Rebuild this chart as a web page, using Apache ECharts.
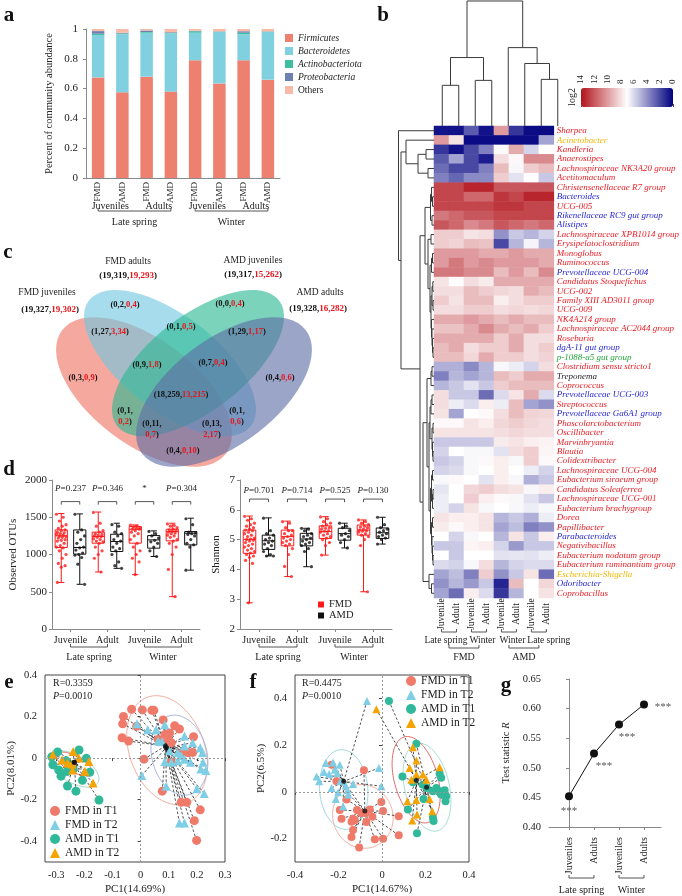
<!DOCTYPE html>
<html>
<head>
<meta charset="utf-8">
<title>Gut microbiota of FMD and AMD</title>
<script src="https://cdn.jsdelivr.net/npm/echarts@6.0.0/dist/echarts.min.js"></script>
<style>
  html, body { margin: 0; padding: 0; background: #fff; }
  #chart { width: 682px; height: 896px; }
</style>
</head>
<body>
<div id="chart"></div>
<script>
const FONT = '"Liberation Serif", "Times New Roman", serif'

// ---------- a: phylum composition ----------
const stackGroups = ['FMD', 'AMD', 'FMD', 'AMD', 'FMD', 'AMD', 'FMD', 'AMD']
const phyla = ['Firmicutes', 'Bacteroidetes', 'Actinobacteriota', 'Proteobacteria', 'Others']
const firmicutes = [0.675, 0.575, 0.68, 0.58, 0.79, 0.635, 0.79, 0.66]
const bacteroidetes = [0.285, 0.39, 0.295, 0.39, 0.185, 0.345, 0.175, 0.32]
const actinobacteriota = [0.008, 0.005, 0.005, 0.003, 0.01, 0.002, 0.01, 0.002]
const proteobacteria = [0.018, 0.005, 0.01, 0.005, 0.003, 0.002, 0.01, 0.002]
const others = [0.014, 0.025, 0.01, 0.022, 0.012, 0.016, 0.015, 0.016]
const ageGroups = ['Juveniles', 'Adults', 'Juveniles', 'Adults']
const seasons = ['Late spring', 'Winter']

// ---------- b: heatmap ----------
const genera = ['Sharpea', 'Acinetobacter', 'Kandleria', 'Anaerostipes', 'Lachnospiraceae NK3A20 group',
  'Acetitomaculum', 'Christensenellaceae R7 group', 'Bacteroides', 'UCG-005', 'Rikenellaceae RC9 gut group',
  'Alistipes', 'Lachnospiraceae XPB1014 group', 'Erysipelatoclostridium', 'Monoglobus', 'Ruminococcus',
  'Prevotellaceae UCG-004', 'Candidatus Stoquefichus', 'UCG-002', 'Family XIII AD3011 group', 'UCG-009',
  'NK4A214 group', 'Lachnospiraceae AC2044 group', 'Roseburia', 'dgA-11 gut group', 'p-1088-a5 gut group',
  'Clostridium sensu stricto1', 'Treponema', 'Coprococcus', 'Prevotellaceae UCG-003', 'Streptococcus',
  'Prevotellaceae Ga6A1 group', 'Phascolarctobacterium', 'Oscillibacter', 'Marvinbryantia', 'Blautia',
  'Colidextribacter', 'Lachnospiraceae UCG-004', 'Eubacterium siraeum group', 'Candidatus Soleaferrea',
  'Lachnospiraceae UCG-001', 'Eubacterium brachygroup', 'Dorea', 'Papillibacter', 'Parabacteroides',
  'Negativibacillus', 'Eubacterium nodatum group', 'Eubacterium ruminantium group', 'Escherichia-Shigella',
  'Odoribacter', 'Coprobacillus']
// phylum of each genus: r Firmicutes, b Bacteroidota, y Proteobacteria, g Patescibacteria, k Spirochaetota
const genusPhylum = 'ryrrrrrbrb' + 'brrrrbrrrr' + 'rrrbgrkrbr' + 'brrrrrrrrr' + 'rrrbrrrybr'
const heatCols = ['Juvenile', 'Adult', 'Juvenile', 'Adult', 'Juvenile', 'Adult', 'Juvenile', 'Adult']
const heatSeasons = ['Late spring', 'Winter', 'Winter', 'Late spring']
const heatDiets = ['FMD', 'AMD']
const heatValues = [
  [0.5, 0.5, 2.5, 0.5, 10, 1.5, 0.3, 0.3],
  [10, 7.8, 0.3, 0.3, 0.3, 0.3, 0.3, 4.5],
  [1.5, 0.5, 2, 3.5, 7.2, 9.5, 5.8, 7],
  [2.5, 4.5, 2, 0.8, 8, 7.2, 10.5, 10.5],
  [3, 2, 2, 3.5, 9, 6.8, 8.5, 9],
  [3.5, 2.8, 3.8, 3.8, 8.5, 6.2, 7.1, 5.5],
  [12.5, 12.5, 13.5, 13.5, 12, 12, 12, 12],
  [12.5, 12.5, 11.5, 11.5, 13, 12.5, 13.5, 13.5],
  [12.5, 12.5, 12.5, 12.5, 13, 13, 12.5, 12.5],
  [11, 11.5, 12, 12, 12.5, 12.5, 12.5, 12.5],
  [12, 11.5, 10.5, 11, 12, 11.5, 11, 11.5],
  [8.5, 8.5, 7.8, 8, 4, 5.5, 5, 5.8],
  [8.5, 8.3, 9, 8.8, 2, 5, 6.7, 5],
  [10, 10, 10, 9.5, 9.5, 10, 9.5, 9.5],
  [10, 11, 10, 10.5, 10, 10, 10, 9.5],
  [11, 11, 10.5, 10.5, 9, 10, 9, 10.5],
  [7.8, 7.1, 8, 7.6, 9.5, 9.5, 9.5, 9.5],
  [8, 8, 9, 8.5, 8.2, 8, 9.5, 9],
  [8.5, 7.8, 9, 9, 7.5, 8, 8.5, 8.5],
  [8, 8, 8.5, 8.5, 8, 8.2, 8, 8.2],
  [9.5, 9.5, 10, 9.5, 9, 9.5, 9, 9],
  [8.8, 8.8, 9.5, 10.5, 9.5, 9, 9.5, 8.5],
  [9.5, 9.5, 9.5, 9.5, 8.5, 9.5, 8, 8],
  [9, 9.5, 8, 8.5, 8.5, 9.5, 8, 8.5],
  [9, 9, 8.2, 9.5, 8.5, 8.5, 8, 8.3],
  [4.8, 4.8, 3.8, 5, 6.8, 6.5, 5.8, 8],
  [3.5, 5, 4.5, 5, 9, 8.5, 9.5, 9.5],
  [5, 5.5, 6.2, 5.5, 8.5, 9, 9, 9],
  [8, 5.5, 5.5, 3, 6, 7.8, 9.5, 6],
  [8, 6.5, 6, 7.5, 6.5, 9, 4.5, 4],
  [7.8, 4.5, 7, 7.2, 8, 9, 8.3, 8.2],
  [7.2, 7.2, 7.8, 7.5, 8.2, 8.5, 8.2, 8],
  [7.8, 7.8, 7.8, 7.8, 8, 8.2, 8, 8],
  [5.5, 5.5, 5.5, 5.5, 7.6, 7.8, 7.5, 7.4],
  [5.8, 7, 6.8, 6.8, 6.2, 8, 8.5, 7.3],
  [5.5, 5.8, 6.8, 7.2, 7.5, 6.8, 8.5, 7.2],
  [5.8, 6, 6.8, 7, 7.5, 7, 6.5, 5.8],
  [6.8, 7.2, 7, 6.2, 7.5, 6.8, 4.8, 5.5],
  [6.3, 7, 8.2, 8.5, 8, 7.8, 6.8, 7.5],
  [6.5, 7, 8.5, 7.5, 7.2, 6.8, 6.2, 5.5],
  [6.5, 5.8, 7.8, 6.8, 7, 6.8, 6.5, 6.8],
  [7.8, 7.5, 7.5, 7.8, 5, 5.5, 4.8, 6.5],
  [7.6, 7.2, 7.5, 7.8, 4.5, 5.2, 3.5, 4],
  [7, 5.8, 6.8, 7, 5, 7.8, 5.5, 7.5],
  [5.5, 5.5, 7.3, 7.5, 5.8, 4.2, 5.5, 5.5],
  [7, 5.5, 7, 7, 6.2, 6.3, 6.2, 6.5],
  [6, 5.8, 6.8, 8, 5, 5.8, 6, 6],
  [4.5, 5.2, 3.5, 8.5, 4, 5.5, 7.8, 3],
  [4, 5, 4.2, 5.5, 1, 9, 7, 8.2],
  [4.5, 3, 7.5, 6, 1.5, 5, 7, 7.8]
]
// clustering trees: [left, right, height], leaves are indices
const colTree = [[[0, 1, 41], [2, 3, 46], 69], [4, [5, [6, 7, 47], 63], 79], 126]
const rowTree = [0, [[1, [[2, 3, 8], [4, 5, 6], 16], 28],
  [[[[6, [7, 8, 1.5], 2.5], [9, 10, 2], 3.5], [[11, 12, 3], [[[13, 14, 1.5], 15, 2.5],
    [[[16, 17, 1.2], [18, 19, 1], 2], [20, [21, [22, [23, 24, 1], 1.5], 2], 2.5], 3], 4], 6], 9],
   [[[[25, 26, 2], 27, 3], [[[[28, 29, 2], 30, 3], [[31, 32, 1], [33, [34, 35, 1], 1.5], 2], 4],
     [[[36, 37, 1.5], [[38, 39, 1], 40, 1.5], 2.5], [[41, 42, 1.5], [43, [44, [45, 46, 1], 1.5], 2], 2.5], 3.5], 5], 7],
    [47, [48, 49, 2.5], 5], 11], 14], 33], 35.5]

// ---------- c: Venn ----------
const vennSets = ['FMD juveniles', 'FMD adults', 'AMD juveniles', 'AMD adults']
const vennTotals = [[19, 327, 19, 302], [19, 319, 19, 293], [19, 317, 15, 262], [19, 328, 16, 282]]
const vennRegions = [[0, 3, 0, 9], [0, 2, 0, 4], [0, 0, 0, 4], [0, 4, 0, 6], [1, 27, 3, 34], [0, 1, 0, 5],
  [1, 29, 1, 17], [0, 9, 1, 8], [0, 7, 0, 4], [18, 259, 13, 215], [0, 1, 0, 2], [0, 11, 0, 7],
  [0, 13, 2, 17], [0, 1, 0, 6], [0, 4, 0, 10]]

// ---------- d: alpha diversity ----------
const ageLabels = ['Juvenile', 'Adult', 'Juvenile', 'Adult']
// box stats per slot (FMD, AMD alternating): [min, q1, median, q3, max]
const otuBoxes = [[625, 1094, 1250, 1330, 1550], [600, 1005, 1094, 1330, 1545], [765, 1152, 1241, 1300, 1570],
  [814, 1040, 1174, 1272, 1420], [730, 1152, 1339, 1375, 1397], [973, 1085, 1196, 1254, 1317],
  [434, 1183, 1308, 1339, 1420], [790, 1129, 1286, 1308, 1487]]
const otuPoints = [
  [1540, 1500, 1450, 1400, 1380, 1350, 1330, 1320, 1300, 1290, 1280, 1270, 1260, 1250, 1240, 1230, 1220, 1200, 1190, 1180, 1150, 1120, 1100, 1090, 1050, 1000, 950, 880, 850, 830, 625],
  [1540, 1330, 1300, 1250, 1200, 1150, 1100, 1090, 1060, 1020, 1000, 990, 960, 870, 600],
  [1565, 1420, 1380, 1320, 1300, 1280, 1270, 1260, 1250, 1240, 1230, 1210, 1200, 1180, 1170, 1150, 1100, 1050, 1000, 950, 765],
  [1400, 1380, 1300, 1280, 1250, 1200, 1180, 1150, 1100, 1080, 1050, 1000, 900, 850, 814],
  [1395, 1380, 1370, 1360, 1350, 1340, 1340, 1320, 1300, 1280, 1250, 1200, 1150, 1100, 1050, 1000, 950, 900, 730],
  [1310, 1280, 1250, 1220, 1190, 1170, 1150, 1100, 1050, 973],
  [1410, 1390, 1380, 1360, 1340, 1330, 1320, 1310, 1300, 1290, 1280, 1260, 1250, 1230, 1200, 1180, 1150, 1100, 1000, 800, 434],
  [1480, 1400, 1300, 1290, 1280, 1270, 1250, 1200, 1150, 1130, 1100, 790]
]
const otuP = ['P=0.237', 'P=0.346', '*', 'P=0.304']
const shBoxes = [[2.88, 4.54, 5.01, 5.32, 5.79], [4.45, 4.67, 4.96, 5.15, 5.73], [3.76, 4.79, 5.1, 5.32, 5.62],
  [4.09, 4.79, 5.02, 5.21, 5.38], [4.48, 5.04, 5.27, 5.46, 5.77], [4.72, 4.98, 5.2, 5.38, 5.55],
  [3.25, 5.15, 5.32, 5.49, 5.66], [4.85, 5.04, 5.23, 5.39, 5.75]]
const shPoints = [
  [5.78, 5.7, 5.65, 5.55, 5.5, 5.45, 5.4, 5.35, 5.32, 5.3, 5.25, 5.2, 5.15, 5.1, 5.05, 5.02, 5, 4.98, 4.95, 4.9, 4.85, 4.8, 4.75, 4.7, 4.65, 4.6, 4.55, 4.5, 4.45, 4.4, 4.3, 4.2, 2.88],
  [5.72, 5.3, 5.2, 5.15, 5.05, 5, 4.95, 4.9, 4.85, 4.8, 4.7, 4.6, 4.5, 4.45, 4.45],
  [5.6, 5.55, 5.4, 5.3, 5.3, 5.2, 5.15, 5.1, 5.05, 5, 4.95, 4.9, 4.85, 4.8, 4.7, 4.5, 4.1, 3.76],
  [5.38, 5.35, 5.3, 5.2, 5.15, 5.1, 5.05, 5, 4.95, 4.9, 4.85, 4.8, 4.7, 4.6, 4.09],
  [5.76, 5.7, 5.6, 5.55, 5.5, 5.45, 5.4, 5.38, 5.35, 5.3, 5.28, 5.25, 5.2, 5.15, 5.1, 5.05, 5, 4.9, 4.8, 4.48],
  [5.55, 5.45, 5.4, 5.3, 5.2, 5.15, 5.1, 5, 4.9, 4.72],
  [5.66, 5.6, 5.55, 5.5, 5.45, 5.42, 5.4, 5.35, 5.32, 5.3, 5.28, 5.25, 5.2, 5.15, 5.1, 5, 4.8, 3.25],
  [5.75, 5.5, 5.4, 5.35, 5.3, 5.25, 5.2, 5.15, 5.1, 5.05, 5, 4.85]
]
const shP = ['P=0.701', 'P=0.714', 'P=0.525', 'P=0.130']

// ---------- e / f: PCoA ----------
const pcoaGroups = ['FMD in T1', 'FMD in T2', 'AMD in T1', 'AMD in T2']
const eFmdT1 = [[-0.032, 0.235], [0.006, 0.232], [0.04, 0.23], [0.047, 0.23], [-0.061, 0.2], [-0.064, 0.165], [-0.014, 0.153],
  [-0.066, 0.098], [-0.043, 0.082], [0.08, 0.184], [0.121, 0.156], [0.138, 0.14], [0.103, 0.121], [0.086, 0.113], [0.062, 0.09],
  [0.097, 0.09], [0.109, 0.074], [0.188, 0.103], [0.15, 0.027], [0.167, 0.027], [0.185, 0.027], [0.012, -0.005], [0.109, -0.02],
  [0.077, -0.159], [0.144, -0.213], [0.164, -0.213], [0.212, -0.249], [0.191, -0.301], [0.199, -0.396]]
const eFmdT2 = [[-0.013, 0.165], [0.025, 0.137], [0.055, 0.137], [0.086, 0.161], [0.062, 0.082], [0.076, 0.079], [0.156, 0.106],
  [0.156, 0.058], [0.185, 0.074], [0.103, 0.035], [0.132, 0.027], [0.144, 0.011], [0.156, -0.005], [0.132, -0.013], [0.109, -0.02],
  [0.086, -0.016], [0.177, -0.02], [0.212, 0.05], [0.22, 0.027], [0.222, -0.02], [0.214, -0.052], [0.232, -0.06], [0.2, -0.147],
  [0.226, -0.17], [0.004, -0.084], [0.091, -0.136], [0.138, -0.312], [0.156, -0.312]]
const eAmdT1 = [[-0.316, 0.006], [-0.295, 0.03], [-0.312, -0.032], [-0.291, -0.057], [-0.265, -0.013], [-0.283, -0.087],
  [-0.262, -0.065], [-0.24, -0.055], [-0.219, 0.039], [-0.193, -0.001], [-0.181, -0.068], [-0.207, -0.107], [-0.26, -0.134],
  [-0.23, -0.159], [-0.148, -0.202]]
const eAmdT2 = [[-0.312, 0.016], [-0.279, -0.009], [-0.24, 0.032], [-0.26, -0.024], [-0.244, -0.028], [-0.242, -0.057],
  [-0.184, -0.016], [-0.198, -0.063], [-0.169, -0.12], [-0.22, 0]]
const eCentroids = [[0.088, 0.058], [0.09, 0.05], [-0.236, -0.02], [-0.236, -0.02]]
// ellipse: centre x, y, then two half-axis vectors
const eEllipses = [[0.094, 0.038, 0.07, -0.255, -0.125, -0.062], [0.138, 0.014, 0.035, -0.19, -0.095, -0.033],
  [-0.236, -0.052, 0.084, -0.066, -0.025, -0.057], [-0.236, -0.028, 0.063, -0.047, -0.014, -0.033]]
const eStats = ['R=0.3359', 'P=0.0010']

const fFmdT1 = [[-0.232, 0.116], [-0.209, 0.045], [-0.083, 0.092], [-0.194, -0.078], [-0.186, -0.115], [-0.163, -0.033],
  [-0.133, -0.115], [-0.125, -0.121], [-0.115, -0.078], [-0.095, -0.09], [-0.075, -0.09], [-0.056, -0.075], [-0.072, -0.129],
  [-0.133, -0.163], [-0.14, -0.193], [-0.105, -0.238], [-0.033, -0.203], [0.005, -0.2], [-0.003, -0.043], [0.005, -0.082],
  [0.077, -0.104], [0.077, -0.186], [-0.14, -0.128], [-0.044, -0.106]]
const fFmdT2 = [[-0.069, 0.389], [-0.301, 0.066], [-0.289, 0.045], [-0.267, 0.085], [-0.258, 0.123], [-0.225, 0.126],
  [-0.243, 0.077], [-0.206, 0.081], [-0.194, 0.116], [-0.217, 0.095], [-0.191, 0.045], [-0.167, 0.027], [-0.232, 0.017],
  [-0.202, -0.002], [-0.159, 0.007], [-0.156, -0.011], [-0.133, 0.034], [-0.179, -0.061], [-0.014, 0.102], [-0.003, 0.024],
  [-0.212, -0.03]]
const fAmdT1 = [[0.032, 0.389], [0.158, 0.206], [0.094, 0.066], [0.142, 0.041], [0.188, 0.031], [0.206, 0.017], [0.191, -0.03],
  [0.234, 0.003], [0.25, 0.017], [0.265, 0.078], [0.272, 0.06], [0.265, 0.003], [0.288, 0.007], [0.295, -0.019], [0.292, -0.04],
  [0.272, -0.011], [0.234, -0.111], [0.237, -0.125], [0.119, -0.075], [0.161, -0.177]]
const fAmdT2 = [[-0.026, 0.354], [0.142, 0.191], [0.158, 0.134], [0.127, 0.102], [0.158, 0.074], [0.135, 0.052], [0.188, 0.074],
  [0.204, 0.052], [0.265, 0.105], [0.219, -0.03], [0.158, -0.035], [0.117, -0.04], [0.231, -0.083], [0.161, -0.097], [0.139, -0.122]]
const fCentroids = [[-0.079, -0.082], [-0.176, 0.045], [0.205, 0.02], [0.158, 0.05]]
const fEllipses = [[-0.088, -0.105, 0.055, -0.128, -0.128, -0.047], [-0.176, 0.01, 0.018, -0.17, -0.11, -0.013],
  [0.207, 0.02, 0.046, -0.187, -0.1, -0.021], [0.157, 0.052, 0.055, -0.183, -0.096, -0.026]]
const fStats = ['R=0.4475', 'P=0.0010']

// ---------- g: ANOSIM R ----------
const gLabels = ['Juveniles', 'Adults', 'Juveniles', 'Adults']
const gValues = [0.452, 0.524, 0.573, 0.607]
const gSig = ['***', '***', '***', '***']

// ================= drawing =================
const chart = echarts.init(document.getElementById('chart'))
const grid = [], xAxis = [], yAxis = [], series = [], graphic = [], legend = []

const phylumColors = ['#ee8070', '#80d0e0', '#3dbf9f', '#6e80b2', '#f8baa6']
const genusColor = { r: '#ec1c24', b: '#2626d6', y: '#f2b705', g: '#22a638', k: '#222' }
const groupColors = ['#f07a6a', '#7ecfe6', '#2fb899', '#f5a300']
const groupSymbols = ['circle', 'triangle', 'circle', 'triangle']
const RED = '#ff1a1a'

function addGrid(rect, x, y) {
  grid.push(rect)
  const gi = grid.length - 1
  xAxis.push(Object.assign({ gridIndex: gi }, x))
  yAxis.push(Object.assign({ gridIndex: gi }, y))
  return gi
}

const text = (size, extra) => Object.assign({ fontFamily: FONT, fontSize: size, color: '#222' }, extra || {})
const greyLine = { lineStyle: { color: '#8a8a8a', width: 1 } }
const richFor = (size, weight = 'normal') => ({
  i: { font: `italic ${weight} ${size}px ${FONT}` },
  r: { font: `${weight} ${size}px ${FONT}`, fill: '#e8141c' },
  k: { font: `${weight} ${size}px ${FONT}`, fill: '#111' }
})
const pText = t => t.startsWith('P=') ? `{i|P}${t.slice(1)}` : t
const tickFmt = v => (Math.abs(v) < 1e-9 ? '0' : String(+v.toFixed(2)))

// texts and brackets placed on an axis of a grid
function annotate(gi, items, ref) {
  series.push({
    type: 'custom', xAxisIndex: gi, yAxisIndex: gi, silent: true, z: 20,
    data: items.map(() => ref),
    renderItem: (params, api) => {
      const it = items[params.dataIndex]
      const cs = params.coordSys
      const xOf = idx => idx.reduce((s, k) => s + api.coord([k, ref[1]])[0], 0) / idx.length
      const y = it.yv != null ? api.coord([ref[0], it.yv])[1] : cs.y + cs.height + it.dy
      if (it.t === 'bracket') {
        const x0 = xOf(it.from), x1 = xOf(it.to), h = it.h
        return { type: 'polyline', shape: { points: [[x0, y + h], [x0, y], [x1, y], [x1, y + h]] },
          style: { stroke: '#555', lineWidth: 1, fill: null } }
      }
      const size = it.size || 10
      return { type: 'text', x: xOf(it.at) + (it.dx || 0), y,
        style: { text: it.text, font: `${size}px ${FONT}`, fill: it.color || '#222', align: 'center',
          verticalAlign: 'middle', rich: richFor(size) } }
    }
  })
}

function dendroSegments(tree) {
  const segs = []
  const walk = n => {
    if (typeof n === 'number') return { pos: n, h: 0 }
    const a = walk(n[0]), b = walk(n[1]), h = n[2]
    segs.push([a.pos, a.h, a.pos, h], [b.pos, b.h, b.pos, h], [a.pos, h, b.pos, h])
    return { pos: (a.pos + b.pos) / 2, h }
  }
  walk(tree)
  return segs
}

function dendroSeries(gi, tree, rowMode) {
  const segs = dendroSegments(tree)
  series.push({
    type: 'custom', xAxisIndex: gi, yAxisIndex: gi, silent: true, data: segs,
    renderItem: (params, api) => {
      const s = segs[params.dataIndex]
      const p0 = api.coord(rowMode ? [s[1], s[0]] : [s[0], s[1]])
      const p1 = api.coord(rowMode ? [s[3], s[2]] : [s[2], s[3]])
      return { type: 'line', shape: { x1: p0[0], y1: p0[1], x2: p1[0], y2: p1[1] },
        style: { stroke: '#3a3a3a', lineWidth: 1 } }
    }
  })
}

// ---- panel a ----
const ga = addGrid({ left: 86, top: 29, width: 194, height: 149 },
  { type: 'category', data: stackGroups, axisLine: greyLine, axisTick: { alignWithLabel: true, length: 3, ...greyLine },
    axisLabel: { rotate: 90, margin: 4, ...text(9) } },
  { type: 'value', min: 0, max: 1, interval: 0.2, axisLine: { show: true, ...greyLine }, axisTick: { show: true, length: 3, ...greyLine },
    splitLine: { show: false }, axisLabel: { ...text(11), formatter: tickFmt },
    name: 'Percent of community abundance', nameLocation: 'middle', nameGap: 31, nameTextStyle: text(10.5) })
const phylumData = [firmicutes, bacteroidetes, actinobacteriota, proteobacteria, others]
phyla.forEach((p, i) => series.push({
  type: 'bar', name: p, stack: 'a', xAxisIndex: ga, yAxisIndex: ga, data: phylumData[i], barWidth: 12.5,
  itemStyle: { color: phylumColors[i] }
}))
annotate(ga, [
  ...ageGroups.map((t, k) => ({ t: 'text', at: [2 * k, 2 * k + 1], dy: 28, text: t })),
  { t: 'bracket', from: [0], to: [3], dy: 33, h: -3 },
  { t: 'bracket', from: [4], to: [7], dy: 33, h: -3 },
  { t: 'text', at: [0, 3], dy: 44, text: seasons[0] },
  { t: 'text', at: [4, 7], dy: 44, text: seasons[1] }
], [0, 0])
legend.push({ orient: 'vertical', left: 285, top: 33, padding: 0, itemGap: 3, itemWidth: 8, itemHeight: 8, icon: 'rect',
  textStyle: text(9.5), selectedMode: false,
  data: phyla.map((p, i) => ({ name: p, textStyle: i < 4 ? { fontStyle: 'italic' } : {} })) })

// ---- panel b ----
const gb = addGrid({ left: 434, top: 126, width: 132, height: 472 },
  { type: 'category', data: heatCols, axisLine: { show: false }, axisTick: { show: false },
    axisLabel: { rotate: 90, align: 'center', verticalAlign: 'middle', margin: 16, ...text(9.5) } },
  { type: 'category', data: genera, inverse: true, position: 'right', axisLine: { show: false }, axisTick: { show: false },
    axisLabel: { margin: 3, interval: 0, fontFamily: FONT, fontSize: 9, fontStyle: 'italic',
      color: (v, i) => genusColor[genusPhylum[i]] || '#ec1c24' } })
const heatData = []
heatValues.forEach((row, r) => row.forEach((v, c) => heatData.push([c, r, v])))
series.push({ type: 'heatmap', xAxisIndex: gb, yAxisIndex: gb, data: heatData, silent: true, progressive: 0 })
const heatIdx = series.length - 1
const seasonShift = [-3, 3.5, 3.5, 10]
annotate(gb, [
  ...[0, 2, 4, 6].map(k => ({ t: 'bracket', from: [k], to: [k + 1], dy: 34, h: -3 })),
  ...heatSeasons.map((t, k) => ({ t: 'text', at: [2 * k, 2 * k + 1], dx: seasonShift[k], dy: 42, text: t, size: 9.5 })),
  { t: 'bracket', from: [0, 1], to: [2, 3], dy: 50, h: -3 },
  { t: 'bracket', from: [4, 5], to: [6, 7], dy: 50, h: -3 },
  { t: 'text', at: [0, 1, 2, 3], dy: 59, text: heatDiets[0] },
  { t: 'text', at: [4, 5, 6, 7], dy: 59, text: heatDiets[1] }
], [0, 0])

const gRow = addGrid({ left: 398, top: 126, width: 36, height: 472 },
  { type: 'value', min: 0, max: 36, inverse: true, show: false },
  { type: 'value', min: -0.5, max: 49.5, inverse: true, show: false })
dendroSeries(gRow, rowTree, true)
const gCol = addGrid({ left: 434, top: 0, width: 132, height: 126 },
  { type: 'value', min: -0.5, max: 7.5, show: false },
  { type: 'value', min: 0, max: 127, show: false })
dendroSeries(gCol, colTree, false)

const gBar = addGrid({ left: 581, top: 88, width: 92, height: 19 },
  { type: 'value', min: 0, max: 14, interval: 2, inverse: true, position: 'top', axisLine: { show: false },
    axisTick: { show: true, length: 3, lineStyle: { color: '#444' } }, splitLine: { show: false },
    axisLabel: { rotate: 90, margin: 4, ...text(9) } },
  { type: 'value', min: 0, max: 1, show: false })

// ---- panel d ----
function boxRender(color) {
  return (params, api) => {
    const x = api.value(0)
    const [lo, q1, md, q3, hi] = [1, 2, 3, 4, 5].map(k => api.value(k))
    const c = (xx, yy) => api.coord([xx, yy])
    const line = (a, b) => ({ type: 'line', shape: { x1: a[0], y1: a[1], x2: b[0], y2: b[1] }, style: { stroke: color, lineWidth: 1 } })
    const bl = c(x - 0.33, q1), tr = c(x + 0.33, q3)
    return { type: 'group', children: [
      line(c(x, lo), c(x, q1)), line(c(x, q3), c(x, hi)),
      line(c(x - 0.17, lo), c(x + 0.17, lo)), line(c(x - 0.17, hi), c(x + 0.17, hi)),
      { type: 'rect', shape: { x: bl[0], y: tr[1], width: tr[0] - bl[0], height: bl[1] - tr[1] },
        style: { fill: 'rgba(255,255,255,0)', stroke: color, lineWidth: 1 } },
      line(c(x - 0.33, md), c(x + 0.33, md))
    ] }
  }
}

function boxPanel(rect, yr, yName, nameGap, boxes, points, pTexts, pLevels) {
  const gi = addGrid(rect,
    { type: 'value', min: 0, max: 8, axisLine: greyLine, splitLine: { show: false },
      axisTick: { customValues: [1, 3, 5, 7], length: 3, ...greyLine },
      axisLabel: { customValues: [1, 3, 5, 7], formatter: v => ageLabels[(v - 1) / 2], margin: 6, ...text(10) } },
    { type: 'value', min: yr[0], max: yr[1], interval: yr[2], axisLine: { show: true, ...greyLine },
      axisTick: { show: true, length: 3, ...greyLine }, splitLine: { show: false },
      axisLabel: { ...text(11), margin: 5, formatter: tickFmt },
      name: yName, nameLocation: 'middle', nameGap, nameTextStyle: text(11) })
  const colors = [RED, '#111']
  ;['FMD', 'AMD'].forEach((name, d) => {
    series.push({ type: 'custom', name, xAxisIndex: gi, yAxisIndex: gi, silent: true, z: 4,
      data: boxes.filter((_, i) => i % 2 === d).map((b, j) => [2 * j + d + 0.5, ...b]),
      renderItem: boxRender(colors[d]) })
    const pts = []
    points.forEach((arr, i) => {
      if (i % 2 !== d) return
      arr.forEach((v, k) => pts.push([i + 0.5 + (((k * 7) % 11) - 5) * 0.052, v]))
    })
    series.push({ type: 'scatter', name, xAxisIndex: gi, yAxisIndex: gi, data: pts, symbolSize: 3.2,
      itemStyle: { color: colors[d] }, silent: true, z: 5 })
  })
  annotate(gi, [
    ...pTexts.map((t, k) => ({ t: 'text', at: [2 * k + 0.5, 2 * k + 1.5], yv: pLevels[0], text: pText(t), size: 9 })),
    ...pTexts.map((t, k) => ({ t: 'bracket', from: [2 * k + 0.5], to: [2 * k + 1.5], yv: pLevels[1], h: 3 })),
    { t: 'bracket', from: [1], to: [3], dy: 18, h: -3 },
    { t: 'bracket', from: [5], to: [7], dy: 18, h: -3 },
    { t: 'text', at: [1, 3], dy: 28, text: seasons[0] },
    { t: 'text', at: [5, 7], dy: 28, text: seasons[1] }
  ], [0, yr[0]])
}
boxPanel({ left: 52, top: 480, width: 148, height: 149 }, [0, 2000, 500], 'Observed OTUs', 33,
  otuBoxes, otuPoints, otuP, [1890, 1710])
boxPanel({ left: 240, top: 480, width: 152, height: 149 }, [2, 7, 1], 'Shannon', 18,
  shBoxes, shPoints, shP, [6.63, 6.36])
legend.push({ orient: 'vertical', left: 318, top: 599, padding: 0, itemGap: 0, itemWidth: 6, itemHeight: 6, icon: 'rect',
  selectedMode: false, textStyle: text(10.5), itemStyle: { borderWidth: 0 },
  data: [{ name: 'FMD', itemStyle: { color: RED } }, { name: 'AMD', itemStyle: { color: '#111' } }] })

// ---- panels e, f ----
function pcoaPanel(rect, xr, yr, xTicks, yTicks, xName, yName, groups, centroids, ellipses, ellipseColors, size) {
  const gi = addGrid(Object.assign({ show: true, borderColor: '#444', borderWidth: 1 }, rect),
    { type: 'value', min: xr[0], max: xr[1], axisLine: { show: false }, splitLine: { show: false },
      axisTick: { customValues: xTicks, length: 3, lineStyle: { color: '#444' } },
      axisLabel: { customValues: xTicks, formatter: tickFmt, ...text(10.5) },
      name: xName, nameLocation: 'middle', nameGap: 22, nameTextStyle: text(11) },
    { type: 'value', min: yr[0], max: yr[1], axisLine: { show: false }, splitLine: { show: false },
      axisTick: { show: true, customValues: yTicks, length: 3, lineStyle: { color: '#444' } },
      axisLabel: { customValues: yTicks, formatter: tickFmt, ...text(10.5) },
      name: yName, nameLocation: 'middle', nameGap: 26, nameTextStyle: text(11) })
  series.push({ type: 'custom', xAxisIndex: gi, yAxisIndex: gi, silent: true, z: 1, data: ellipses,
    renderItem: (params, api) => {
      const e = ellipses[params.dataIndex]
      const pts = []
      for (let k = 0; k <= 90; k++) {
        const t = k / 90 * Math.PI * 2
        pts.push(api.coord([e[0] + e[2] * Math.cos(t) + e[4] * Math.sin(t), e[1] + e[3] * Math.cos(t) + e[5] * Math.sin(t)]))
      }
      return { type: 'polyline', shape: { points: pts }, style: { stroke: ellipseColors[params.dataIndex], lineWidth: 1, fill: null } }
    },
    markLine: { silent: true, symbol: 'none', label: { show: false },
      lineStyle: { color: '#999', type: [2, 2], width: 1 }, data: [{ xAxis: 0 }, { yAxis: 0 }] } })
  groups.forEach((pts, g) => {
    series.push({ type: 'custom', xAxisIndex: gi, yAxisIndex: gi, silent: true, z: 2, data: pts,
      renderItem: (params, api) => {
        const p = api.coord([api.value(0), api.value(1)]), c = api.coord(centroids[g])
        return { type: 'line', shape: { x1: p[0], y1: p[1], x2: c[0], y2: c[1] },
          style: { stroke: '#222', lineWidth: 0.8, lineDash: [2.5, 2] } }
      } })
  })
  groups.forEach((pts, g) => {
    series.push({ type: 'scatter', name: pcoaGroups[g], xAxisIndex: gi, yAxisIndex: gi, data: pts, z: 3,
      symbol: groupSymbols[g], symbolSize: size, itemStyle: { color: groupColors[g], opacity: 1 }, silent: true })
  })
  series.push({ type: 'scatter', xAxisIndex: gi, yAxisIndex: gi, data: centroids, z: 4, symbolSize: 5,
    itemStyle: { color: '#111' }, silent: true })
  return gi
}
pcoaPanel({ left: 45, top: 675, width: 180, height: 190 }, [-0.34, 0.3], [-0.5, 0.4],
  [-0.3, -0.2, -0.1, 0, 0.1, 0.2, 0.3], [-0.4, -0.2, 0, 0.2, 0.4], 'PC1(14.69%)', 'PC2(8.01%)',
  [eFmdT1, eFmdT2, eAmdT1, eAmdT2], eCentroids, eEllipses, ['#f2ae9f', '#a9b6dc', '#a3dccb', '#e26060'], 9)
pcoaPanel({ left: 295, top: 675, width: 174, height: 188 }, [-0.4, 0.4], [-0.3, 0.5],
  [-0.4, -0.2, 0, 0.2, 0.4], [-0.2, 0, 0.2, 0.4], 'PC1(14.67%)', 'PC2(6.5%)',
  [fFmdT1, fFmdT2, fAmdT1, fAmdT2], fCentroids, fEllipses, ['#f2b2a2', '#9fd8e2', '#a6dfd3', '#e06b6b'], 8)
const pcoaLegend = (left, top) => ({ orient: 'vertical', left, top, padding: 0, itemGap: 2, itemWidth: 10, itemHeight: 10,
  selectedMode: false, textStyle: text(11.5),
  data: pcoaGroups.map((n, g) => ({ name: n, icon: groupSymbols[g], itemStyle: { color: groupColors[g] } })) })
legend.push(pcoaLegend(50, 805), pcoaLegend(406, 675))

// ---- panel g ----
const gg = addGrid({ left: 549, top: 679, width: 112, height: 148 },
  { type: 'value', min: -0.8, max: 3.68, axisLine: greyLine, splitLine: { show: false },
    axisTick: { customValues: [0, 1, 2, 3], length: 3, ...greyLine },
    axisLabel: { customValues: [0, 1, 2, 3], formatter: v => gLabels[v], rotate: 90, margin: 10, ...text(10) } },
  { type: 'value', min: 0.4, max: 0.65, interval: 0.05, axisLine: { show: true, ...greyLine }, splitLine: { show: false },
    axisTick: { show: true, length: 3, ...greyLine }, axisLabel: { ...text(10.5), formatter: v => v.toFixed(2) },
    name: '{n|Test statistic }{i|R}', nameLocation: 'middle', nameGap: 37,
    nameTextStyle: { ...text(10.5), rich: { n: text(10.5), i: text(10.5, { fontStyle: 'italic' }) } } })
const sigOffsets = [[0, 15], [10, 13], [8, 13], [19, 3]]
series.push({ type: 'line', xAxisIndex: gg, yAxisIndex: gg, silent: true,
  data: gValues.map((v, i) => ({ value: [i, v],
    label: { show: true, position: 'inside', offset: sigOffsets[i], formatter: gSig[i], ...text(11, { color: '#555' }) } })),
  symbol: 'circle', symbolSize: 8, itemStyle: { color: '#111' }, lineStyle: { color: '#111', width: 1 } })
annotate(gg, [
  { t: 'bracket', from: [0], to: [1], dy: 51, h: -3 },
  { t: 'bracket', from: [2], to: [3], dy: 51, h: -3 },
  { t: 'text', at: [0, 1], dy: 63, text: seasons[0] },
  { t: 'text', at: [2, 3], dy: 63, text: seasons[1] }
], [0, 0.4])

// ---- panel c: Venn (graphic) ----
const vennColors = ['#ef7563', '#6fc6e0', '#2bb891', '#5d6ea6']
const vennShapes = [[-40, 20, 110, 58, -1], [-14, -14, 110, 52, -1], [14, -14, 110, 52, 1], [40, 20, 110, 58, 1]]
const vennText = (v, twoLine) => `{k|(${v[0]},${v[1]},}${twoLine ? '\n' : ''}{r|${v[2]},${v[3]}}{k|)}`
graphic.push({ type: 'group', x: 184, y: 375, scaleY: 0.85, silent: true,
  children: vennShapes.map((s, i) => ({ type: 'circle', x: s[0], y: s[1], rotation: s[4] * Math.PI / 4,
    scaleY: s[3] / s[2], shape: { cx: 0, cy: 0, r: s[2] }, style: { fill: vennColors[i], opacity: 0.62 } })) })
const vennLabelPos = [[47, 292, 50, 310], [128, 261, 128, 276], [253, 260, 253, 275], [320, 292, 318, 309]]
vennSets.forEach((s, i) => {
  const p = vennLabelPos[i]
  graphic.push({ type: 'text', x: p[0], y: p[1], silent: true,
    style: { text: s, font: `9.5px ${FONT}`, fill: '#222', align: 'center', verticalAlign: 'middle' } })
  graphic.push({ type: 'text', x: p[2], y: p[3], silent: true,
    style: { text: vennText(vennTotals[i]), font: `bold 9px ${FONT}`, align: 'center', verticalAlign: 'middle', rich: richFor(9, 'bold') } })
})
const vennRegionPos = [[83, 378], [125, 305], [230, 304], [280, 378], [110, 332], [181, 327], [247, 332], [147, 365],
  [213, 363], [181, 395], [125, 416, 1], [152, 429, 1], [212, 429, 1], [237, 416, 1], [183, 451]]
vennRegions.forEach((v, i) => {
  const p = vennRegionPos[i]
  graphic.push({ type: 'text', x: p[0], y: p[1], silent: true,
    style: { text: vennText(v, p[2]), font: `bold 8.5px ${FONT}`, align: 'center', verticalAlign: 'middle',
      lineHeight: 11, rich: richFor(8.5, 'bold') } })
})

// ---- panel letters, stats and colour bar title ----
const letters = [['a', 9, 16], ['b', 383, 16], ['c', 8, 253], ['d', 9, 470], ['e', 9, 683], ['f', 253, 683], ['g', 506, 686]]
letters.forEach(([t, x, y]) => graphic.push({ type: 'text', x, y, silent: true,
  style: { text: t, font: `bold 21px ${FONT}`, fill: '#111', align: 'center', verticalAlign: 'middle' } }))
;[[eStats, 53, 683], [fStats, 302, 683]].forEach(([st, x, y]) => st.forEach((s, k) => graphic.push({
  type: 'text', x, y: y + k * 13, silent: true,
  style: { text: pText(s), font: `10px ${FONT}`, fill: '#222', align: 'left', verticalAlign: 'middle', rich: richFor(10) } })))
graphic.push({ type: 'text', x: 572, y: 97, rotation: Math.PI / 2, silent: true,
  style: { text: 'log2', font: `10px ${FONT}`, fill: '#222', align: 'center', verticalAlign: 'middle' } })

chart.setOption({
  animation: false,
  backgroundColor: '#fff',
  textStyle: { fontFamily: FONT },
  grid, xAxis, yAxis, series, graphic, legend,
  visualMap: {
    type: 'continuous', min: 0, max: 14, seriesIndex: heatIdx, orient: 'horizontal', inverse: true,
    left: 581, top: 88, itemWidth: 19, itemHeight: 92, calculable: false, padding: 0, hoverLink: false,
    inRange: { color: ['#000080', '#ffffff', '#b2141c'] }
  }
})
</script>
</body>
</html>
